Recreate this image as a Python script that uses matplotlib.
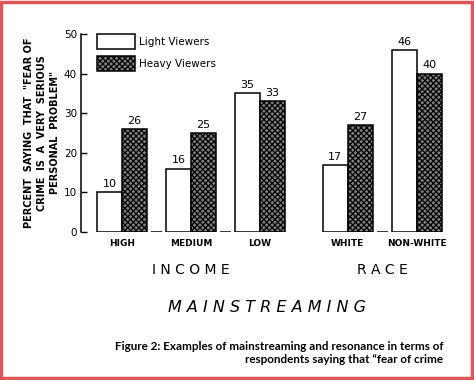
import matplotlib
matplotlib.use("Agg")
import matplotlib.pyplot as plt
import matplotlib.transforms as mtransforms
from matplotlib.patches import Rectangle
import numpy as np

# values
categories = ["HIGH", "MEDIUM", "LOW", "WHITE", "NON-WHITE"]
light_viewers = [10, 16, 35, 17, 46]
heavy_viewers = [26, 25, 33, 27, 40]
group_names = ["I N C O M E", "R A C E"]
group_members = [[0, 1, 2], [3, 4]]
y_ticks = [0, 10, 20, 30, 40, 50]

plt.rcParams["font.family"] = "DejaVu Sans"
plt.rcParams["hatch.linewidth"] = 0.9

# positions: income groups side by side, then a wider gap before race
pos = np.array([0, 1, 2, 3.27, 4.27])
w = 0.36

fig = plt.figure(figsize=(4.74, 3.80), dpi=100)
ax = fig.add_axes([0.171, 0.3895, 0.7785, 0.521])

ax.bar(pos - w / 2, light_viewers, w, color="white", edgecolor="black",
       linewidth=1.1, label="Light Viewers")
ax.bar(pos + w / 2, heavy_viewers, w, color="#808080", edgecolor="black",
       linewidth=1.1, hatch="xxxxxx", label="Heavy Viewers")

for x, v in zip(pos - w / 2, light_viewers):
    ax.text(x, v + 0.8, str(v), ha="center", va="bottom", fontsize=8)
for x, v in zip(pos + w / 2, heavy_viewers):
    ax.text(x, v + 0.8, str(v), ha="center", va="bottom", fontsize=8)

# short baseline dashes between neighbouring groups of a block
for members in group_members:
    for a, b in zip(members[:-1], members[1:]):
        mid = (pos[a] + pos[b]) / 2
        ax.hlines(0, mid - 0.08, mid + 0.08, color="black", linewidth=1.1)

ax.set_xlim(-0.594, 4.754)
ax.set_ylim(0, 50)
ax.set_yticks(y_ticks)
ax.tick_params(axis="y", direction="in", length=4, width=1.0, pad=3,
               labelsize=7.5)
ax.set_xticks(pos)
ax.set_xticklabels(categories, fontsize=6.5, fontweight="bold")
ax.tick_params(axis="x", length=0, pad=5)
for s in ["top", "right", "bottom"]:
    ax.spines[s].set_visible(False)
ax.spines["left"].set_linewidth(1.1)

ax.set_ylabel('PERCENT  SAYING  THAT  "FEAR OF\nCRIME  IS  A  VERY  SERIOUS\nPERSONAL  PROBLEM"',
              fontsize=7, fontweight="semibold", linespacing=1.35, labelpad=3)

leg = ax.legend(loc="upper left", bbox_to_anchor=(16 / 369, 1.0), frameon=False,
                borderpad=0, borderaxespad=0, handlelength=3.6, handleheight=1.8,
                labelspacing=0.7, handletextpad=0.4, fontsize=7.5)

trans = mtransforms.blended_transform_factory(ax.transData, fig.transFigure)
for name, members in zip(group_names, group_members):
    ax.text(np.mean(pos[members]), 0.289, name, transform=trans,
            ha="center", va="center", fontsize=10)

fig.text(0.563, 0.192, "M A I N S T R E A M I N G", ha="center", va="center",
         fontsize=11.5, style="italic")

fig.text(0.935, 0.072,
         "Figure 2: Examples of mainstreaming and resonance in terms of\n"
         "respondents saying that \u201cfear of crime",
         ha="right", va="center", multialignment="right",
         fontsize=8.4, fontweight="bold", family="Lato", linespacing=1.25)

# red frame of the scanned image
fig.patches.append(Rectangle((0.003, 0.005), 0.992, 0.99, transform=fig.transFigure,
                             fill=False, edgecolor="#e05555", linewidth=2.5))

fig.savefig("out.png", dpi=100)
